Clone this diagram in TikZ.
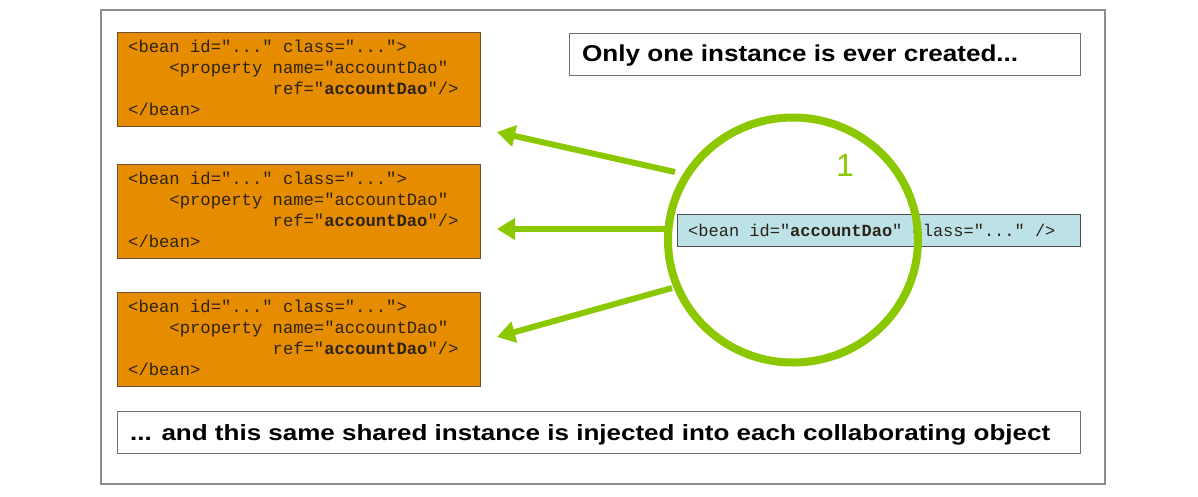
\documentclass[tikz,border=0pt]{standalone}
\usepackage{fontspec}
\usepackage{graphicx}
\setmainfont{Liberation Sans}
\setmonofont{Liberation Mono}
\usetikzlibrary{arrows.meta,shapes.geometric}
\definecolor{beanorange}{RGB}{230,140,0}
\definecolor{beanborder}{RGB}{110,80,50}
\definecolor{beanblue}{RGB}{188,226,232}
\definecolor{sgreen}{RGB}{140,200,0}
\definecolor{framegray}{RGB}{140,140,140}
\definecolor{codeink}{RGB}{45,35,25}
\newcommand{\ind}[1]{\hspace*{#1}}
\tikzset{
  beanbox/.style={draw=beanborder, line width=1pt, fill=beanorange, anchor=north west,
    minimum width=363pt, minimum height=94pt, inner sep=0pt},
  beantxt/.style={anchor=north west, inner sep=0pt, align=left, text=codeink,
    font=\ttfamily\fontsize{17.2}{21}\selectfont},
  txtbox/.style={draw=framegray!80!black, line width=1pt, fill=white, anchor=north west, inner sep=0pt},
  injarrow/.style={draw=sgreen, line width=6pt, -{Triangle[length=18pt,width=21pt]}},
}
\newcommand{\beantext}{\spaceskip=0.6em\relax <bean id="..." class="...">\\
\ind{2.4em}<property name="accountDao"\\
\ind{8.4em}ref="\textbf{accountDao}"/>\\
</bean>}
\begin{document}
\begin{tikzpicture}[x=1pt,y=-1pt]
\useasboundingbox (0,0) rectangle (1198,496);
\draw[draw=framegray, line width=1.3pt, fill=white] (101,10) rectangle (1105,484);
% bean boxes
\node[beanbox] (b1) at (117,32) {};
\node[beanbox] (b2) at (117,164) {};
\node[beanbox] (b3) at (117,292) {};
\node[beantxt] (b1t) at (128,40) {\beantext};
\node[beantxt] (b2t) at (128,172) {\beantext};
\node[beantxt] (b3t) at (128,300) {\beantext};
% top text box
\node[txtbox, minimum width=511pt, minimum height=42pt] (top) at (569,33) {};
\node[anchor=west, inner sep=0pt] (toptext) at (582,56)
  {\resizebox{436pt}{\height}{\fontsize{23}{23}\selectfont\bfseries Only one instance is ever created...}};
% bottom text box
\node[txtbox, minimum width=963pt, minimum height=42pt] (bot) at (117,411) {};
\node[anchor=west, inner sep=0pt] (bottext) at (130,435)
  {\resizebox{920pt}{\height}{\fontsize{22}{22}\selectfont\bfseries ... and this same shared instance is injected into each collaborating object}};
% blue bean
\node[draw=black!70, line width=1pt, fill=beanblue, anchor=north west, minimum width=403pt,
  minimum height=32pt, inner sep=0pt] (blue) at (677,214) {};
\node[anchor=west, inner sep=0pt, text=codeink, font=\ttfamily\fontsize{17}{21}\selectfont] (bluetext) at (688,230)
  {<bean id="\textbf{accountDao}" class="..." />};
% circle
\node[draw=sgreen, line width=8pt, ellipse, minimum width=250pt, minimum height=245pt,
  inner sep=0pt] (c) at (793,240) {};
\node[text=sgreen, font=\fontsize{32}{32}\selectfont, inner sep=0pt] (one) at (845,165) {1};
% arrows
\coordinate (t1) at (497,132);
\coordinate (t2) at (497,229);
\coordinate (t3) at (497,337);
\coordinate (s1) at (675,172);
\coordinate (s2) at (670,229);
\coordinate (s3) at (672,288);
\draw[injarrow] (s1) -- (t1);
\draw[injarrow] (s2) -- (t2);
\draw[injarrow] (s3) -- (t3);
\end{tikzpicture}
\end{document}
